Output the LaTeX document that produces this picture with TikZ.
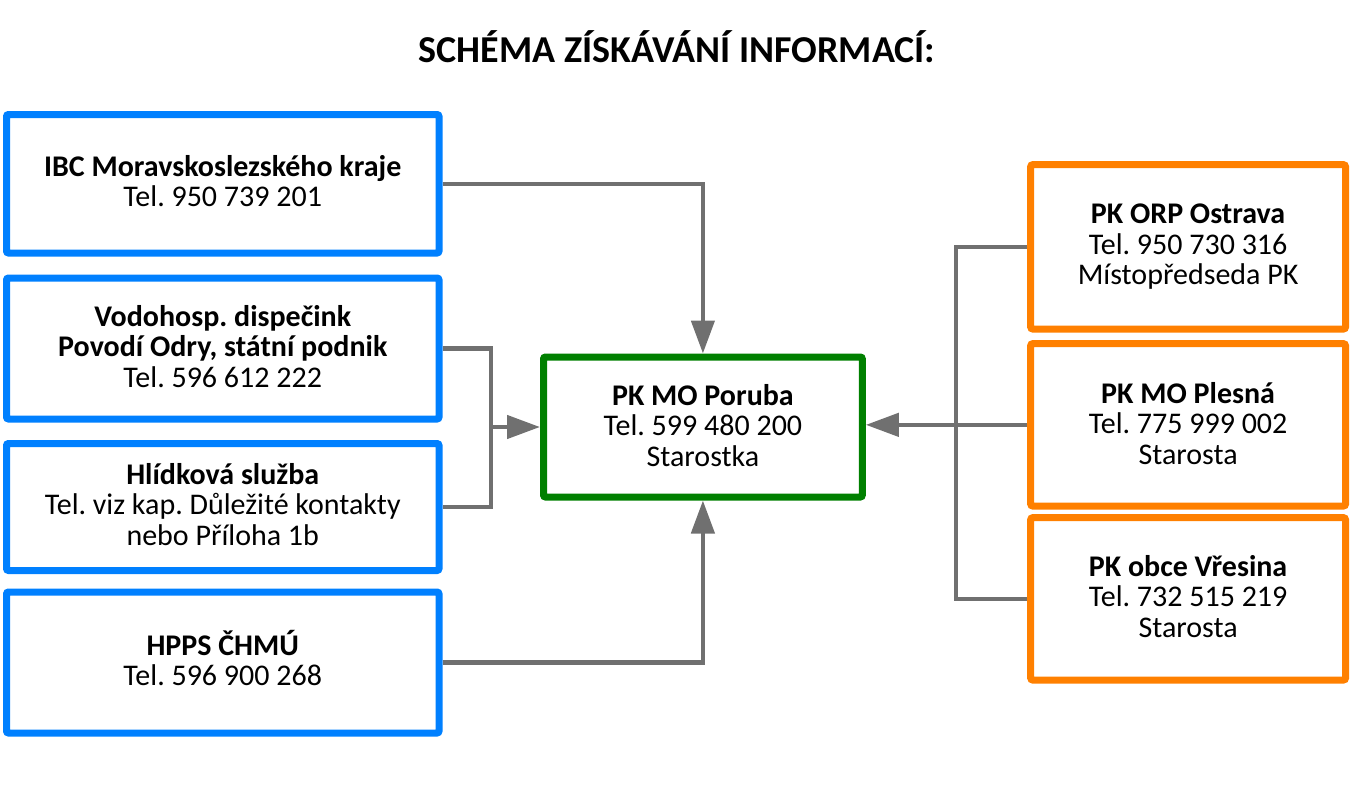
\documentclass[tikz,border=0pt]{standalone}
\usepackage{fontspec}
\setmainfont{Carlito}
\frenchspacing
\usetikzlibrary{arrows.meta}
\definecolor{cblue}{RGB}{0,128,255}
\definecolor{cgreen}{RGB}{0,128,0}
\definecolor{corange}{RGB}{255,128,0}
\definecolor{cgray}{RGB}{112,112,112}
\begin{document}
\begin{tikzpicture}[x=1pt,y=-1pt,
  box/.style={draw, line width=7pt, rounded corners=2pt, fill=white, inner sep=0pt},
  txt/.style={align=center, inner sep=0pt, font=\fontsize{30}{30.5}\selectfont},
  bluebox/.style={box, draw=cblue, minimum width=432.5pt},
  orangebox/.style={box, draw=corange, minimum width=314.8pt, minimum height=162.3pt},
  conn/.style={draw=cgray, line width=4.5pt},
  arr/.style={conn, -{Triangle[length=33pt,width=23pt]}}]
\useasboundingbox (0,0) rectangle (1359,787);
\node[font=\fontsize{38}{40}\selectfont\bfseries] (title) at (677,47) {SCHÉMA ZÍSKÁVÁNÍ INFORMACÍ:};
\node[bluebox, minimum height=138.5pt] (b1) at (222.75,183.75) {};
\node[bluebox, minimum height=141pt] (b2) at (222.75,348.5) {};
\node[bluebox, minimum height=127pt] (b3) at (222.75,507) {};
\node[bluebox, minimum height=141pt] (b4) at (222.75,662.5) {};
\node[box, draw=cgreen, minimum width=318.8pt, minimum height=140pt] (g) at (702.9,427) {};
\node[orangebox, minimum height=164.3pt] (oA) at (1188.1,246.85) {};
\node[orangebox] (oB) at (1188.1,424.85) {};
\node[orangebox] (oC) at (1188.1,598.85) {};
\node[txt] (b1t) at (222.75,181) {\textbf{IBC Moravskoslezského kraje}\\Tel. 950 739 201};
\node[txt] (b2t) at (222.75,346.5) {\textbf{Vodohosp. dispečink}\\\textbf{Povodí Odry, státní podnik}\\Tel. 596 612 222};
\node[txt] (b3t) at (222.75,504.5) {\textbf{Hlídková služba}\\Tel. viz kap. Důležité kontakty\\nebo Příloha 1b};
\node[txt] (b4t) at (222.75,658) {\textbf{HPPS ČHMÚ}\\Tel. 596 900 268};
\node[txt] (gt) at (702.9,425.5) {\textbf{PK MO Poruba}\\Tel. 599 480 200\\Starostka};
\node[txt] (oAt) at (1188.1,247) {\textbf{PK ORP Ostrava}\\Tel. 950 730 316\\Místopředseda PK};
\node[txt] (oBt) at (1188.1,423.5) {\textbf{PK MO Plesná}\\Tel. 775 999 002\\Starosta};
\node[txt] (oCt) at (1188.1,596.5) {\textbf{PK obce Vřesina}\\Tel. 732 515 219\\Starosta};
\coordinate (j) at (491,427);
\coordinate (k) at (956,425);
\draw[arr] (b1.east) -| (g.north);
\draw[arr] (b4.east) -| (g.south);
\draw[conn] (b2.east) -| (j) |- (b3.east);
\draw[arr] (j) -- (g.west);
\draw[conn] (oA.west) -| (k) |- (oC.west);
\draw[arr] (oB.west) -- (g.east |- oB.west);
\end{tikzpicture}
\end{document}
